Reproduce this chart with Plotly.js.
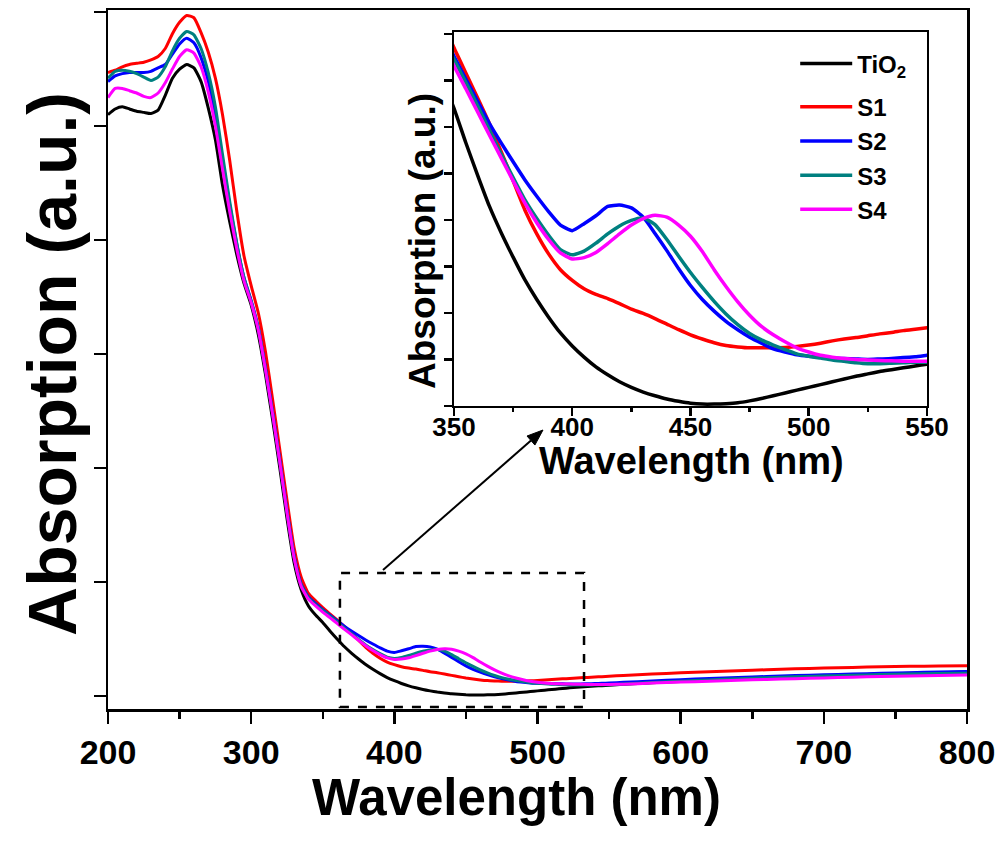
<!DOCTYPE html>
<html>
<head>
<meta charset="utf-8">
<script src="https://cdn.plot.ly/plotly-3.0.1.min.js"></script>
<style>html,body{margin:0;padding:0;background:#fff;}#chart{width:1004px;height:842px;}</style>
</head>
<body>
<div id="chart"></div>
<script>
// Wavelength grid (nm)
const wavelength = [200,205,210,215,220,225,230,235,240,245,250,255,260,265,270,275,280,285,290,295,300,305,310,315,320,325,330,335,340,345,
  350,355,360,365,370,375,380,385,390,395,400,405,410,415,420,425,430,435,440,445,450,455,460,465,470,475,480,485,490,495,500,505,510,515,520,525,530,535,540,545,550,
  560,580,600,620,640,660,680,700,720,740,760,780,800];

const seriesNames = ['TiO<sub>2</sub>', 'S1', 'S2', 'S3', 'S4'];
const seriesColors = ['#000000', '#ff0000', '#0000ff', '#008080', '#ff00ff'];

const tio2 = [5.10,5.15,5.17,5.15,5.13,5.12,5.11,5.14,5.27,5.42,5.50,5.54,5.51,5.39,5.16,4.88,4.48,4.16,3.87,3.62,3.43,3.17,2.82,2.42,2.00,1.56,1.17,0.93,0.79,0.71,
  0.645,0.571,0.501,0.434,0.377,0.325,0.276,0.234,0.196,0.162,0.134,0.110,0.089,0.072,0.057,0.045,0.035,0.027,0.020,0.015,0.011,0.009,0.009,0.010,0.012,0.016,0.021,0.027,0.033,0.039,0.045,0.051,0.057,0.063,0.069,0.074,0.079,0.083,0.087,0.091,0.095,
  0.103,0.116,0.128,0.140,0.151,0.161,0.170,0.178,0.186,0.193,0.199,0.205,0.210];

const s1 = [5.47,5.49,5.52,5.54,5.55,5.56,5.58,5.61,5.68,5.81,5.91,5.97,5.95,5.82,5.65,5.42,5.10,4.70,4.25,3.86,3.60,3.36,3.02,2.60,2.16,1.72,1.30,1.04,0.90,0.835,
  0.775,0.721,0.667,0.612,0.551,0.489,0.426,0.375,0.332,0.298,0.275,0.257,0.245,0.236,0.225,0.213,0.204,0.193,0.181,0.169,0.158,0.149,0.141,0.135,0.132,0.130,0.130,0.130,0.131,0.133,0.136,0.140,0.145,0.149,0.152,0.156,0.160,0.163,0.167,0.170,0.173,
  0.180,0.192,0.203,0.213,0.222,0.230,0.238,0.245,0.251,0.256,0.260,0.263,0.265];

const s2 = [5.39,5.44,5.46,5.47,5.47,5.47,5.48,5.51,5.54,5.63,5.72,5.77,5.73,5.60,5.39,5.10,4.70,4.31,3.96,3.67,3.47,3.23,2.88,2.49,2.07,1.63,1.23,0.98,0.87,0.81,
  0.757,0.708,0.660,0.612,0.570,0.530,0.491,0.456,0.423,0.394,0.382,0.397,0.414,0.434,0.437,0.431,0.411,0.376,0.339,0.300,0.264,0.234,0.209,0.187,0.169,0.153,0.140,0.128,0.121,0.115,0.112,0.110,0.108,0.107,0.106,0.105,0.106,0.107,0.109,0.111,0.114,
  0.120,0.132,0.143,0.153,0.162,0.171,0.179,0.186,0.193,0.199,0.205,0.210,0.215];

const s3 = [5.42,5.48,5.49,5.48,5.46,5.43,5.40,5.43,5.52,5.66,5.77,5.83,5.80,5.68,5.47,5.17,4.75,4.34,3.97,3.67,3.46,3.22,2.87,2.48,2.06,1.62,1.22,0.97,0.86,0.80,
  0.750,0.701,0.650,0.598,0.546,0.496,0.448,0.408,0.372,0.341,0.330,0.338,0.355,0.375,0.392,0.404,0.409,0.395,0.363,0.327,0.292,0.260,0.230,0.203,0.180,0.161,0.147,0.136,0.126,0.117,0.112,0.108,0.104,0.101,0.098,0.096,0.096,0.097,0.098,0.099,0.099,
  0.105,0.118,0.130,0.141,0.151,0.160,0.168,0.175,0.182,0.188,0.193,0.197,0.200];

const s4 = [5.25,5.33,5.33,5.31,5.29,5.26,5.25,5.29,5.38,5.50,5.61,5.67,5.64,5.52,5.30,5.00,4.62,4.25,3.92,3.64,3.45,3.21,2.86,2.47,2.05,1.61,1.21,0.96,0.85,0.79,
  0.736,0.687,0.637,0.587,0.538,0.489,0.441,0.399,0.363,0.334,0.321,0.324,0.335,0.354,0.375,0.394,0.408,0.415,0.411,0.394,0.370,0.337,0.298,0.262,0.229,0.200,0.176,0.158,0.143,0.130,0.121,0.114,0.110,0.107,0.105,0.104,0.103,0.102,0.101,0.101,0.101,
  0.104,0.113,0.122,0.130,0.138,0.145,0.152,0.159,0.165,0.171,0.176,0.180,0.184];

const seriesValues = [tio2, s1, s2, s3, s4];

// text labels
const mainXTitle = 'Wavelength (nm)';
const mainYTitle = 'Absorption (a.u.)';
const insetXTitle = 'Wavelength (nm)';
const insetYTitle = 'Absorption (a.u.)';

const FONT = '"Liberation Sans", Arial, Helvetica, sans-serif';

const traces = [];
// main panel
seriesValues.forEach((vals, i) => {
  traces.push({
    x: wavelength, y: vals, type: 'scatter', mode: 'lines',
    name: seriesNames[i], xaxis: 'x', yaxis: 'y', showlegend: false,
    line: {color: seriesColors[i], width: 3, shape: 'spline', smoothing: 0.5},
    hoverinfo: 'skip'
  });
});
// inset panel
seriesValues.forEach((vals, i) => {
  traces.push({
    x: wavelength, y: vals, type: 'scatter', mode: 'lines',
    name: seriesNames[i], xaxis: 'x2', yaxis: 'y2', showlegend: true,
    legendgroup: i === 0 ? 'ref' : 'samples',
    line: {color: seriesColors[i], width: 3.5, shape: 'spline', smoothing: 0.5},
    hoverinfo: 'skip'
  });
});
// empty trace that registers the label-only inset axis
traces.push({x: [], y: [], type: 'scatter', mode: 'lines', xaxis: 'x3', yaxis: 'y2',
  showlegend: false, hoverinfo: 'skip'});

const axisCommon = {
  showline: true, linecolor: '#000', linewidth: 2.5, mirror: true,
  showgrid: false, zeroline: false, ticks: 'outside', tickcolor: '#000',
  tickwidth: 2.5, automargin: false
};

function bold(size) { return {family: FONT, size: size, color: '#000', weight: 'bold'}; }

const insetXDomain = [0.4028, 0.9534];

const layout = {
  width: 1004, height: 842,
  margin: {l: 108, r: 37, t: 10, b: 133, pad: 0},
  paper_bgcolor: '#fff', plot_bgcolor: '#fff',
  font: bold(14),
  showlegend: true,
  legend: {
    x: 0.80, y: 0.955, xanchor: 'left', yanchor: 'top',
    bgcolor: 'rgba(0,0,0,0)', borderwidth: 0,
    font: bold(24),
    tracegroupgap: 9, itemwidth: 52
  },
  xaxis: Object.assign({}, axisCommon, {
    domain: [0, 1], anchor: 'y', range: [200, 800], dtick: 100, tick0: 0,
    ticklen: 12,
    minor: {dtick: 50, ticks: 'outside', ticklen: 7, tickwidth: 2.5, tickcolor: '#000'},
    tickfont: bold(34)
  }),
  yaxis: Object.assign({}, axisCommon, {
    domain: [0, 1], anchor: 'x', range: [-0.114, 6.018], dtick: 1, tick0: 0,
    ticklen: 12, showticklabels: false
  }),
  xaxis2: Object.assign({}, axisCommon, {
    domain: insetXDomain, anchor: 'y2', range: [350, 550], dtick: 50, tick0: 0,
    ticklen: 8, showticklabels: false,
    minor: {dtick: 25, ticks: 'outside', ticklen: 4, tickwidth: 2.5, tickcolor: '#000'}
  }),
  // label-only axis for the inset, so the numbers sit close under the short ticks
  xaxis3: {
    domain: insetXDomain, anchor: 'y2', overlaying: 'x2', range: [350, 550], dtick: 50, tick0: 0,
    showline: false, showgrid: false, zeroline: false, ticks: '', ticklen: 0,
    ticklabelstandoff: 3, side: 'bottom', automargin: false,
    tickfont: bold(26)
  },
  yaxis2: Object.assign({}, axisCommon, {
    domain: [0.4335, 0.9685], anchor: 'x2', range: [0.005, 0.809], dtick: 0.1, tick0: 0.005,
    ticklen: 8, showticklabels: false
  }),
  shapes: [
    { // zoom box
      type: 'rect', xref: 'x', yref: 'y', x0: 362, x1: 532.5, y0: -0.096, y1: 1.079,
      line: {color: '#000', width: 2.5, dash: 'dash'}, fillcolor: 'rgba(0,0,0,0)', layer: 'above'
    },
    { // arrow shaft
      type: 'line', xref: 'paper', yref: 'paper', x0: 0.32014, y0: 0.19886, x1: 0.49239, y1: 0.38406,
      line: {color: '#000', width: 2}
    },
    { // arrow head
      type: 'path', xref: 'paper', yref: 'paper',
      path: 'M 0.5064 0.39914 L 0.49699 0.37760 L 0.48779 0.39053 Z',
      fillcolor: '#000', line: {color: '#000', width: 1}
    }
  ],
  annotations: [
    {text: mainXTitle, xref: 'paper', yref: 'paper', x: 0.476, y: -0.1273,
     xanchor: 'center', yanchor: 'middle', showarrow: false, font: bold(51)},
    {text: mainYTitle, xref: 'paper', yref: 'paper', x: -0.0652, y: 0.4936, textangle: -90,
     xanchor: 'center', yanchor: 'middle', showarrow: false, font: bold(68)},
    {text: insetXTitle, xref: 'paper', yref: 'paper', x: 0.6787, y: 0.3548,
     xanchor: 'center', yanchor: 'middle', showarrow: false, font: bold(38)},
    {text: insetYTitle, xref: 'paper', yref: 'paper', x: 0.3655, y: 0.6695, textangle: -90,
     xanchor: 'center', yanchor: 'middle', showarrow: false, font: bold(37)}
  ]
};

Plotly.newPlot('chart', traces, layout, {displayModeBar: false, staticPlot: true});
</script>
</body>
</html>
